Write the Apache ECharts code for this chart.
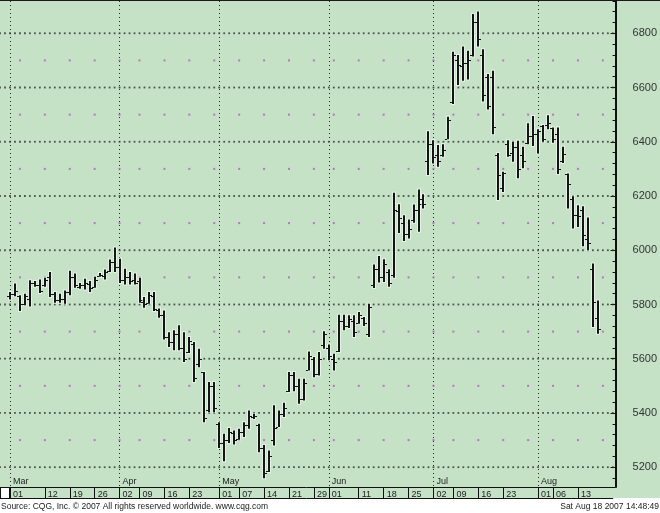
<!DOCTYPE html>
<html>
<head>
<meta charset="utf-8">
<script src="https://cdn.jsdelivr.net/npm/echarts@6.0.0/dist/echarts.min.js"></script>
<style>
  html, body { margin: 0; padding: 0; background: #ffffff; }
  #wrap { position: relative; width: 660px; height: 513px; overflow: hidden; }
  #bg { position: absolute; left: 0; top: 0; width: 660px; height: 498px; background: #c5e2c7; border-top: 1px solid #1a1a1a; box-sizing: border-box; z-index: 0; }
  #chart { position: absolute; left: 0; top: 0; width: 660px; height: 513px; z-index: 1; }
  #box { position: absolute; left: 0; top: 487px; width: 10px; height: 12px; background: #ffffff; border: 1px solid #111; box-sizing: border-box; z-index: 2; }
</style>
</head>
<body>
<div id="wrap">
  <div id="bg"></div>
  <div id="chart"></div>
  <div id="box"></div>
</div>
<script>
// ---- trading days shown (Mar 1 – Aug 17, 2007) ----
const tradeDates = [
  '03-01','03-02','03-05','03-06','03-07','03-08','03-09','03-12','03-13','03-14','03-15','03-16',
  '03-19','03-20','03-21','03-22','03-23','03-26','03-27','03-28','03-29','03-30',
  '04-02','04-03','04-04','04-05','04-09','04-10','04-11','04-12','04-13','04-16','04-17','04-18','04-19','04-20',
  '04-23','04-24','04-25','04-26','04-27','04-30',
  '05-01','05-02','05-03','05-04','05-07','05-08','05-09','05-10','05-11','05-14','05-15','05-16','05-17','05-18',
  '05-21','05-22','05-23','05-24','05-25','05-29','05-30','05-31',
  '06-01','06-04','06-05','06-06','06-07','06-08','06-11','06-12','06-13','06-14','06-15',
  '06-18','06-19','06-20','06-21','06-22','06-25','06-26','06-27','06-28','06-29',
  '07-02','07-03','07-05','07-06','07-09','07-10','07-11','07-12','07-13','07-16','07-17','07-18','07-19','07-20',
  '07-23','07-24','07-25','07-26','07-27','07-30','07-31',
  '08-01','08-02','08-03','08-06','08-07','08-08','08-09','08-10','08-13','08-14','08-15','08-16','08-17'
];
const leadDates = ['02-27','02-28'];
const tailDates = ['08-20','08-21','08-22'];

// ---- OHLC values ----
const opens = [
  5830,5840,5830,5800,5820,5880,5870,5870,5900,5840,
  5815,5820,5845,5900,5865,5870,5875,5865,5905,5905,
  5925,5955,5940,5890,5900,5890,5885,5810,5805,5830,
  5780,5760,5680,5660,5690,5640,5625,5655,5580,5550,
  5410,5500,5360,5290,5300,5325,5305,5330,5355,5385,
  5355,5270,5185,5300,5350,5395,5480,5540,5500,5450,
  5560,5600,5545,5650,5640,5600,5630,5740,5720,5740,
  5730,5750,5690,5870,5930,5900,5920,5910,6145,6100,
  6060,6110,6150,6190,6330,6390,6350,6350,6410,6545,
  6700,6680,6690,6720,6840,6720,6640,6640,6350,6230,
  6390,6360,6380,6350,6395,6420,6430,6458,6460,6450,
  6430,6330,6280,6190,6130,6150,6040,5930,5750
];
const highs = [
  5846,5877,5834,5840,5889,5887,5892,5899,5920,5846,
  5840,5852,5924,5914,5879,5895,5887,5902,5916,5929,
  5966,6010,5969,5932,5920,5914,5899,5828,5846,5846,
  5785,5778,5698,5705,5723,5698,5680,5662,5637,5551,
  5514,5514,5366,5323,5345,5335,5342,5366,5409,5397,
  5360,5282,5262,5428,5409,5438,5551,5551,5526,5526,
  5627,5606,5625,5701,5652,5618,5762,5762,5760,5760,
  5772,5754,5803,5947,5979,5967,5930,6212,6170,6129,
  6113,6169,6224,6206,6439,6406,6388,6391,6492,6732,
  6720,6751,6736,6871,6880,6741,6650,6662,6359,6289,
  6406,6400,6404,6382,6468,6495,6446,6462,6498,6453,
  6453,6382,6283,6199,6166,6162,6121,5951,5815
];
const lows = [
  5818,5830,5776,5797,5793,5865,5842,5865,5828,5806,
  5806,5803,5834,5862,5858,5855,5846,5862,5902,5892,
  5920,5920,5879,5874,5874,5874,5806,5788,5803,5776,
  5751,5671,5643,5631,5631,5588,5621,5514,5569,5366,
  5403,5403,5271,5222,5289,5284,5301,5311,5342,5378,
  5255,5159,5182,5280,5348,5385,5477,5480,5434,5446,
  5557,5532,5538,5637,5594,5557,5625,5705,5713,5680,
  5729,5721,5680,5861,5881,5883,5865,5899,6064,6034,
  6043,6101,6068,6154,6277,6320,6308,6345,6409,6539,
  6609,6625,6630,6714,6751,6548,6519,6428,6185,6215,
  6345,6326,6265,6302,6391,6384,6357,6400,6446,6396,
  6281,6322,6154,6080,6086,6015,6000,5717,5692
];
const closes = [
  5838,5850,5800,5830,5880,5870,5850,5890,5840,5815,
  5820,5845,5900,5870,5870,5880,5860,5890,5910,5920,
  5955,5940,5890,5900,5885,5880,5815,5800,5835,5785,
  5760,5680,5660,5690,5640,5600,5665,5530,5600,5380,
  5500,5420,5290,5300,5330,5300,5330,5355,5390,5390,
  5270,5180,5240,5345,5395,5420,5540,5500,5450,5510,
  5610,5545,5600,5690,5610,5588,5740,5720,5745,5700,
  5760,5730,5790,5930,5900,5950,5880,6150,6120,6060,
  6080,6150,6172,6170,6391,6345,6330,6370,6480,6720,
  6683,6690,6700,6843,6778,6572,6532,6453,6277,6283,
  6351,6380,6300,6330,6421,6428,6440,6412,6468,6410,
  6301,6354,6246,6129,6126,6055,6025,5810,5710
];

// ---- axis labels / grid levels ----
const dateLabels = ['03-01','03-12','03-19','03-26','04-02','04-09','04-16','04-23',
  '05-01','05-07','05-14','05-21','05-29','06-01','06-11','06-18','06-25',
  '07-02','07-09','07-16','07-23','08-01','08-06','08-13'];
const monthStarts = ['03-01','04-02','05-01','06-01','07-02','08-01'];
const monthNames  = ['Mar','Apr','May','Jun','Jul','Aug'];
const weekStarts = ['03-05','03-12','03-19','03-26','04-02','04-09','04-16','04-23','04-30',
  '05-07','05-14','05-21','05-29','06-04','06-11','06-18','06-25','07-02','07-09','07-16',
  '07-23','07-30','08-06','08-13','08-20'];
const dotLevels = [5300,5500,5700,5900,6100,6300,6500,6700];
const yTickLabels = [5200,5400,5600,5800,6000,6200,6400,6600,6800];

const sourceText = 'Source: CQG, Inc. \u00A9 2007 All rights reserved worldwide. www.cqg.com';
const stampText = 'Sat Aug 18 2007 14:48:49';

// ---- build ----
const cats = leadDates.concat(tradeDates, tailDates);
const ohlc = tradeDates.map((d, i) => [d, opens[i], highs[i], lows[i], closes[i]]);
const dots = [];
weekStarts.forEach(d => dotLevels.forEach(v => dots.push([d, v])));
const gridDots = [];
cats.forEach(d => yTickLabels.forEach(v => gridDots.push([d, v])));
const labelSet = new Set(dateLabels);
const monthMap = {};
monthStarts.forEach((d, i) => monthMap[d] = monthNames[i]);
const labelSetY = new Set(yTickLabels);

const FONT = '"Liberation Sans", Arial, sans-serif';
const INK = '#141414';
const GRIDDOT = '#2a2a2a';

const chart = echarts.init(document.getElementById('chart'), null, { renderer: 'canvas' });
chart.setOption({
  animation: false,
  backgroundColor: 'transparent',
  textStyle: { fontFamily: FONT },
  title: [
    { text: sourceText, left: 1, top: 502, padding: 0,
      textStyle: { fontSize: 8.5, fontWeight: 'normal', color: '#222', fontFamily: FONT } },
    { text: stampText, right: 1, top: 502, padding: 0,
      textStyle: { fontSize: 8.5, fontWeight: 'normal', color: '#222', fontFamily: FONT } }
  ],
  grid: { left: -1.7, right: 46.7, top: 1, bottom: 26, containLabel: false },
  xAxis: [
    {
      type: 'category', data: cats, boundaryGap: false, position: 'bottom',
      axisLine: { show: true, onZero: false, lineStyle: { color: '#111', width: 1 } },
      axisTick: { show: true, interval: (i, v) => labelSet.has(v), length: 11, lineStyle: { color: '#111' } },
      axisLabel: { interval: (i, v) => labelSet.has(v), formatter: v => v.slice(3),
        align: 'left', padding: [0, 0, 0, 3], margin: 3, fontSize: 9, color: '#222', fontFamily: FONT },
      splitLine: { show: true, interval: (i, v) => v in monthMap,
        lineStyle: { color: GRIDDOT, type: [1, 3], width: 1 } }
    },
    {
      type: 'category', data: cats, boundaryGap: false, position: 'bottom', offset: 11,
      axisLine: { show: true, onZero: false, lineStyle: { color: '#111', width: 1 } },
      axisTick: { show: false }, axisLabel: { show: false }, splitLine: { show: false }
    },
    {
      type: 'category', data: cats, boundaryGap: false, position: 'bottom',
      axisLine: { show: false, onZero: false }, axisTick: { show: false },
      axisLabel: { inside: true, interval: (i, v) => v in monthMap, formatter: v => monthMap[v] || '',
        align: 'left', padding: [0, 0, 0, 3], margin: 1, fontSize: 9, color: '#222', fontFamily: FONT },
      splitLine: { show: false }
    }
  ],
  yAxis: [
    {
      type: 'value', position: 'right', offset: 2.7, min: 5127, max: 6919,
      minInterval: 200, maxInterval: 200, splitNumber: 9,
      axisLine: { show: true, lineStyle: { color: '#111', width: 2 } },
      axisTick: { show: true, inside: true, length: 5, lineStyle: { color: '#111' } },
      axisLabel: { showMinLabel: false, showMaxLabel: false,
        formatter: v => labelSetY.has(v) ? String(v) : '',
        margin: 17, align: 'left', fontSize: 11, color: '#333', fontFamily: FONT },
      splitLine: { show: false }
    },
    {
      type: 'value', position: 'right', offset: 2.7, min: 5127, max: 6919,
      minInterval: 40, maxInterval: 40, splitNumber: 45,
      axisLine: { show: false },
      axisTick: { show: true, inside: true, length: 3, lineStyle: { color: '#111' } },
      axisLabel: { show: false }, splitLine: { show: false }
    }
  ],
  series: [
    {
      // dotted horizontal grid rows at the labelled price levels
      type: 'scatter', xAxisIndex: 0, yAxisIndex: 0, data: gridDots, silent: true,
      symbol: 'rect', symbolSize: [1.8, 1.8], itemStyle: { color: '#303030' }, z: 1
    },
    {
      type: 'scatter', xAxisIndex: 0, yAxisIndex: 0, data: dots, silent: true,
      symbol: 'rect', symbolSize: 2, itemStyle: { color: '#b35cbb' }, z: 1
    },
    {
      type: 'custom', xAxisIndex: 0, yAxisIndex: 0, data: ohlc, silent: true, clip: false, z: 3,
      encode: { x: 0, y: [1, 2, 3, 4] },
      renderItem: function (params, api) {
        const i = api.value(0);
        const pO = api.coord([i, api.value(1)]);
        const pH = api.coord([i, api.value(2)]);
        const pL = api.coord([i, api.value(3)]);
        const pC = api.coord([i, api.value(4)]);
        const x = Math.round(pH[0]);
        const yo = Math.round(pO[1]) + 0.5;
        const yc = Math.round(pC[1]) + 0.5;
        return {
          type: 'group',
          children: [
            { type: 'line', shape: { x1: x, y1: pH[1] - 1, x2: x, y2: pL[1] + 1 },
              style: { stroke: 'rgba(255,255,255,0.55)', lineWidth: 4 } },
            { type: 'line', shape: { x1: x, y1: pH[1], x2: x, y2: pL[1] },
              style: { stroke: INK, lineWidth: 2 } },
            { type: 'line', shape: { x1: x - 3, y1: yo, x2: x - 1, y2: yo },
              style: { stroke: INK, lineWidth: 1 } },
            { type: 'line', shape: { x1: x + 1, y1: yc, x2: x + 3, y2: yc },
              style: { stroke: INK, lineWidth: 1 } }
          ]
        };
      }
    }
  ]
});
</script>
</body>
</html>
